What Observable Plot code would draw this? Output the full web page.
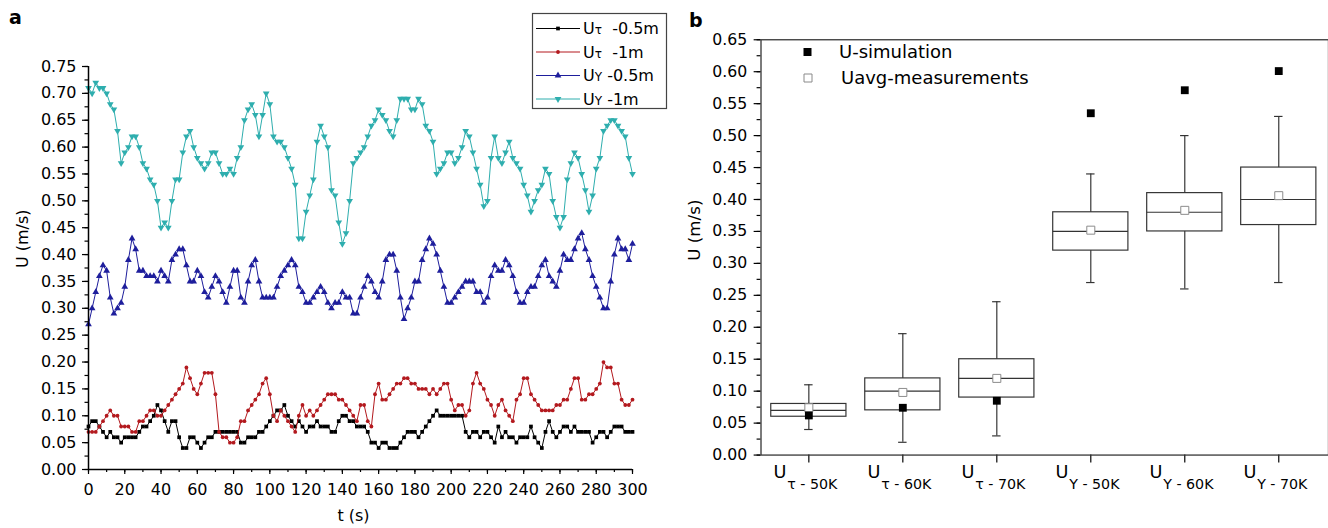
<!DOCTYPE html>
<html><head><meta charset="utf-8">
<script src="https://cdn.jsdelivr.net/npm/d3@7"></script>
<script src="https://cdn.jsdelivr.net/npm/@observablehq/plot@0.6"></script>
<style>
html,body{margin:0;padding:0;background:#fff;overflow:hidden}
#root{position:relative;width:1328px;height:528px;overflow:hidden;font-family:"DejaVu Sans",sans-serif;background:#fff}
#pa{position:absolute;left:0;top:0}
#pb{position:absolute;left:680px;top:0}
#ov{position:absolute;left:0;top:0;pointer-events:none;font-family:"DejaVu Sans",sans-serif}
</style></head>
<body><div id="root"><div id="pa"></div><div id="pb"></div><svg id="ov" width="1328" height="528"></svg></div>
<script>
// ---------- Panel a data (t every 2 s) ----------
const times = d3.range(0, 301, 2);
const uTau05 = [
0.08,0.09,0.09,0.08,0.07,0.06,0.07,0.06,0.06,0.05,
0.06,0.06,0.06,0.06,0.07,0.08,0.08,0.09,0.10,0.12,
0.11,0.09,0.07,0.09,0.09,0.06,0.04,0.04,0.06,0.06,
0.05,0.04,0.05,0.06,0.06,0.07,0.07,0.07,0.07,0.07,
0.07,0.07,0.05,0.05,0.06,0.06,0.06,0.07,0.07,0.08,
0.09,0.10,0.11,0.11,0.12,0.10,0.09,0.08,0.09,0.08,
0.07,0.08,0.08,0.09,0.08,0.08,0.08,0.07,0.07,0.09,
0.10,0.10,0.09,0.09,0.08,0.08,0.08,0.07,0.05,0.05,
0.04,0.05,0.05,0.04,0.04,0.04,0.05,0.06,0.07,0.07,
0.07,0.06,0.07,0.08,0.09,0.10,0.11,0.10,0.10,0.10,
0.10,0.10,0.10,0.10,0.07,0.06,0.07,0.07,0.06,0.07,
0.07,0.06,0.05,0.08,0.06,0.07,0.06,0.06,0.05,0.06,
0.06,0.06,0.08,0.06,0.05,0.04,0.07,0.09,0.07,0.06,
0.07,0.08,0.08,0.07,0.08,0.07,0.07,0.07,0.07,0.05,
0.06,0.07,0.07,0.06,0.07,0.08,0.08,0.08,0.07,0.07,
0.07];
const uTau1 = [
0.07,0.07,0.07,0.08,0.09,0.10,0.11,0.10,0.10,0.08,
0.08,0.08,0.07,0.07,0.09,0.09,0.10,0.11,0.11,0.10,
0.10,0.11,0.12,0.13,0.14,0.15,0.16,0.19,0.17,0.15,
0.14,0.16,0.18,0.18,0.18,0.14,0.07,0.06,0.06,0.05,
0.05,0.06,0.09,0.09,0.11,0.12,0.13,0.14,0.16,0.17,
0.14,0.10,0.09,0.11,0.10,0.09,0.08,0.07,0.10,0.12,
0.10,0.11,0.10,0.11,0.12,0.13,0.14,0.14,0.14,0.13,
0.13,0.12,0.11,0.10,0.09,0.12,0.12,0.09,0.08,0.14,
0.16,0.13,0.13,0.14,0.15,0.16,0.16,0.17,0.17,0.16,
0.16,0.15,0.15,0.15,0.14,0.15,0.14,0.15,0.16,0.16,
0.13,0.11,0.12,0.12,0.10,0.11,0.16,0.18,0.16,0.15,
0.13,0.12,0.10,0.12,0.13,0.11,0.10,0.09,0.13,0.14,
0.17,0.17,0.14,0.13,0.12,0.11,0.11,0.11,0.11,0.12,
0.12,0.13,0.13,0.15,0.17,0.17,0.13,0.13,0.14,0.14,
0.15,0.16,0.20,0.19,0.19,0.16,0.16,0.13,0.12,0.12,
0.13];
const uY05 = [
0.27,0.30,0.33,0.36,0.38,0.37,0.32,0.29,0.30,0.31,
0.34,0.39,0.43,0.41,0.37,0.37,0.36,0.36,0.36,0.35,
0.37,0.36,0.35,0.39,0.40,0.41,0.41,0.38,0.35,0.35,
0.37,0.36,0.33,0.32,0.34,0.36,0.35,0.33,0.31,0.34,
0.37,0.37,0.32,0.31,0.35,0.38,0.39,0.35,0.32,0.32,
0.32,0.32,0.34,0.36,0.37,0.38,0.39,0.38,0.34,0.33,
0.31,0.31,0.32,0.33,0.34,0.33,0.31,0.30,0.31,0.31,
0.33,0.32,0.32,0.29,0.29,0.32,0.34,0.36,0.35,0.33,
0.32,0.35,0.39,0.40,0.40,0.37,0.32,0.28,0.30,0.32,
0.35,0.35,0.39,0.41,0.43,0.42,0.40,0.37,0.34,0.31,
0.31,0.32,0.33,0.34,0.35,0.35,0.35,0.33,0.33,0.31,
0.32,0.36,0.38,0.37,0.37,0.39,0.38,0.36,0.33,0.31,
0.31,0.33,0.34,0.34,0.36,0.38,0.39,0.36,0.35,0.34,
0.37,0.40,0.39,0.39,0.41,0.43,0.44,0.41,0.39,0.36,
0.34,0.32,0.30,0.30,0.35,0.40,0.43,0.41,0.41,0.39,
0.42];
const uY1 = [
0.71,0.70,0.72,0.71,0.71,0.70,0.68,0.67,0.63,0.57,
0.59,0.60,0.62,0.62,0.60,0.57,0.56,0.54,0.53,0.50,
0.45,0.46,0.45,0.50,0.54,0.54,0.59,0.62,0.63,0.60,
0.58,0.57,0.56,0.57,0.59,0.59,0.57,0.55,0.55,0.56,
0.55,0.58,0.60,0.65,0.67,0.68,0.66,0.62,0.66,0.70,
0.68,0.62,0.61,0.61,0.60,0.58,0.56,0.53,0.43,0.43,
0.48,0.51,0.54,0.61,0.64,0.62,0.60,0.52,0.51,0.46,
0.42,0.44,0.50,0.57,0.58,0.59,0.60,0.62,0.64,0.65,
0.67,0.66,0.65,0.63,0.62,0.65,0.69,0.69,0.69,0.67,
0.67,0.69,0.68,0.64,0.63,0.61,0.55,0.56,0.57,0.59,
0.59,0.57,0.58,0.60,0.63,0.62,0.59,0.56,0.53,0.49,
0.50,0.58,0.62,0.58,0.57,0.59,0.61,0.58,0.57,0.56,
0.53,0.51,0.48,0.50,0.52,0.53,0.56,0.55,0.50,0.47,
0.45,0.47,0.54,0.57,0.59,0.58,0.55,0.52,0.48,0.51,
0.56,0.58,0.63,0.64,0.65,0.65,0.64,0.63,0.62,0.58,
0.55];
const legendParts = [["U","τ","  -0.5m"],["U","τ","  -1m"],["U","Y"," -0.5m"],["U","Y"," -1m"]];
const yTicksA = [0,0.05,0.10,0.15,0.20,0.25,0.30,0.35,0.40,0.45,0.50,0.55,0.60,0.65,0.70,0.75];
const xTicksA = [0,20,40,60,80,100,120,140,160,180,200,220,240,260,280,300];

// ---------- Panel b data ----------
const catSubs = ["τ - 50K","τ - 60K","τ - 70K","Y - 50K","Y - 60K","Y - 70K"];
const whiskerLow  = [0.04,0.02,0.03,0.27,0.26,0.27];
const q1s         = [0.06,0.07,0.09,0.32,0.35,0.36];
const medians     = [0.07,0.10,0.12,0.35,0.38,0.40];
const q3s         = [0.08,0.12,0.15,0.38,0.41,0.45];
const whiskerHigh = [0.11,0.19,0.24,0.44,0.50,0.53];
const measMean    = [0.074,0.098,0.120,0.352,0.383,0.406];
const simValues   = [0.062,0.074,0.085,0.535,0.571,0.601];
const yTicksB = [0,0.05,0.10,0.15,0.20,0.25,0.30,0.35,0.40,0.45,0.50,0.55,0.60,0.65];

// ---------- helpers ----------
const sqrt3 = Math.sqrt(3);
const triangleDown = {draw(ctx, size){ const y = -Math.sqrt(size/(sqrt3*3)); ctx.moveTo(0,-y*2); ctx.lineTo(-sqrt3*y, y); ctx.lineTo(sqrt3*y, y); ctx.closePath(); }};
const specs = [
  {vals: uTau05, color: "#000000", symbol: d3.symbolSquare, r: 2.1},
  {vals: uTau1,  color: "#b3191e", symbol: d3.symbolCircle, r: 1.9},
  {vals: uY05,   color: "#1e1e9c", symbol: d3.symbolTriangle, r: 2.5},
  {vals: uY1,    color: "#2eaeae", symbol: triangleDown, r: 2.5}
];
const longA = vals => times.map((t, i) => ({t, v: vals[i]}));
const baseStyle = {fontFamily: "DejaVu Sans, sans-serif", fontSize: "16px", color: "#000", background: "transparent", overflow: "visible"};

// ---------- Panel a ----------
const plotA = Plot.plot({
  width: 680, height: 528, marginLeft: 88, marginRight: 48, marginTop: 66, marginBottom: 59,
  style: baseStyle,
  x: {domain: [0, 300]},
  y: {domain: [0, 0.75]},
  marks: [
    Plot.axisY(yTicksA, {tickSize: 6, tickPadding: 6, tickFormat: d3.format(".2f"), label: null, strokeWidth: 1.2, fontSize: 16}),
    Plot.axisY(d3.range(0, 0.7501, 0.025), {tickSize: 3.5, fill: "none", label: null, strokeWidth: 1.2}),
    Plot.axisX(xTicksA, {tickSize: 5, tickPadding: 9, label: null, strokeWidth: 1.2, fontSize: 16}),
    Plot.axisX(d3.range(0, 301, 10), {tickSize: 3, fill: "none", label: null, strokeWidth: 1.2}),
    ...specs.flatMap(s => [
      Plot.line(longA(s.vals), {x: "t", y: "v", stroke: s.color, strokeWidth: 1}),
      Plot.dot(longA(s.vals), {x: "t", y: "v", symbol: s.symbol, r: s.r, fill: s.color, stroke: "none"})
    ]),
    Plot.ruleX([0], {stroke: "#000", strokeWidth: 1.5}),
    Plot.ruleY([0], {stroke: "#000", strokeWidth: 1.5}),
    Plot.text(["U (m/s)"], {text: d => d, frameAnchor: "left", rotate: -90, dx: -66, dy: 0, fontSize: 16}),
    Plot.text(["t (s)"], {text: d => d, frameAnchor: "bottom", dx: -7, dy: 51, fontSize: 16})
  ]
});
document.getElementById("pa").append(plotA);

// ---------- Panel b ----------
const boxes = catSubs.map((c, i) => ({i: i + 1, c, lo: whiskerLow[i], q1: q1s[i], med: medians[i], q3: q3s[i], hi: whiskerHigh[i], mean: measMean[i], sim: simValues[i]}));
const bw = 0.40, cw = 0.045, boxStroke = "#333";
const plotB = Plot.plot({
  width: 660, height: 528, marginLeft: 82, marginRight: 0, marginTop: 40, marginBottom: 65,
  style: baseStyle,
  x: {type: "linear", domain: [0.491, 6.529]},
  y: {domain: [0, 0.65]},
  marks: [
    Plot.axisY(yTicksB, {tickSize: 7, tickPadding: 7, tickFormat: d3.format(".2f"), label: null, strokeWidth: 1.2, fontSize: 16}),
    Plot.axisY(d3.range(0, 0.6501, 0.025), {tickSize: 4, fill: "none", label: null, strokeWidth: 1.2}),
    Plot.axisX(boxes.map(d => d.i), {tickSize: 8, fill: "none", label: null, strokeWidth: 1.2}),
    Plot.ruleX(boxes, {x: "i", y1: "lo", y2: "hi", stroke: boxStroke, strokeWidth: 1.2}),
    Plot.ruleY(boxes, {y: "hi", x1: d => d.i - cw, x2: d => d.i + cw, stroke: boxStroke, strokeWidth: 1.2}),
    Plot.ruleY(boxes, {y: "lo", x1: d => d.i - cw, x2: d => d.i + cw, stroke: boxStroke, strokeWidth: 1.2}),
    Plot.rect(boxes, {x1: d => d.i - bw, x2: d => d.i + bw, y1: "q1", y2: "q3", fill: "white", stroke: boxStroke, strokeWidth: 1.2}),
    Plot.ruleY(boxes, {y: "med", x1: d => d.i - bw, x2: d => d.i + bw, stroke: boxStroke, strokeWidth: 1.2}),
    Plot.dot(boxes, {x: "i", y: "mean", symbol: "square", r: 4.6, fill: "white", stroke: "#8a8a8a", strokeWidth: 1}),
    Plot.dot(boxes, {x: "i", y: "sim", symbol: "square", r: 4.5, fill: "#000", stroke: "none"}),
    Plot.frame({stroke: "#333", strokeWidth: 1.3}),
    Plot.text(boxes, {x: "i", text: () => "U", frameAnchor: "bottom", dy: 23.5, dx: -36, textAnchor: "start", fontSize: 18}),
    Plot.text(boxes, {x: "i", text: "c", frameAnchor: "bottom", dy: 35, dx: -22, textAnchor: "start", fontSize: 14.5}),
    Plot.text(["U (m/s)"], {text: d => d, frameAnchor: "left", rotate: -90, dx: -68, dy: 13.5, fontSize: 17})
  ]
});
document.getElementById("pb").append(plotB);

// ---------- overlay: panel letters and legends ----------
const ov = d3.select("#ov");
ov.append("text").attr("x", 9).attr("y", 24).attr("font-size", 19).attr("font-weight", "bold").text("a");
ov.append("text").attr("x", 689).attr("y", 27).attr("font-size", 19).attr("font-weight", "bold").text("b");

const lg = ov.append("g");
lg.append("rect").attr("x", 532.5).attr("y", 13.5).attr("width", 134).attr("height", 95).attr("fill", "white").attr("stroke", "#444").attr("stroke-width", 1.2);
const rowsY = [28.5, 52, 75.5, 99];
specs.forEach((s, k) => {
  const y = rowsY[k];
  lg.append("line").attr("x1", 536).attr("x2", 580).attr("y1", y).attr("y2", y).attr("stroke", s.color).attr("stroke-width", 1);
  lg.append("path").attr("d", d3.symbol(s.symbol, Math.PI * s.r * s.r)()).attr("transform", `translate(558,${y})`).attr("fill", s.color);
  const t = lg.append("text").attr("x", 583).attr("y", y + 5.8).attr("font-size", 16).style("white-space", "pre");
  t.append("tspan").text(legendParts[k][0]);
  t.append("tspan").attr("font-size", 12).text(legendParts[k][1]);
  t.append("tspan").text(legendParts[k][2]);
});

const lgb = ov.append("g");
lgb.append("path").attr("d", d3.symbol(d3.symbolSquare, 64)()).attr("transform", "translate(807.5,52)").attr("fill", "#000");
lgb.append("path").attr("d", d3.symbol(d3.symbolSquare, 64)()).attr("transform", "translate(808,78)").attr("fill", "white").attr("stroke", "#8a8a8a");
lgb.append("text").attr("x", 839).attr("y", 58).attr("font-size", 18).text("U-simulation");
lgb.append("text").attr("x", 841).attr("y", 83.5).attr("font-size", 18).text("Uavg-measurements");
</script>
</body></html>
